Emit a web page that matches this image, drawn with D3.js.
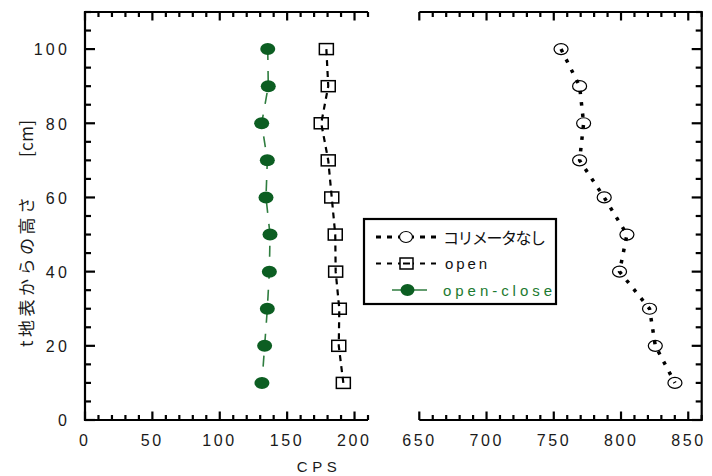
<!DOCTYPE html>
<html><head><meta charset="utf-8">
<script src="https://cdn.jsdelivr.net/npm/d3@7"></script>
<style>
html,body{margin:0;padding:0;background:#fff;}
svg{display:block;}
</style></head>
<body>
<svg id="chart" width="712" height="476"></svg>
<script>
// ---- data ----
const heights = [100, 90, 80, 70, 60, 50, 40, 30, 20, 10];
const openClose = [135.6, 136.0, 131.1, 135.3, 134.3, 137.3, 136.8, 135.3, 133.3, 131.3];
const openVals = [179.1, 180.5, 175.3, 180.5, 183.1, 185.7, 186.0, 188.7, 188.3, 191.7];
const noCollimator = [755.4, 769.2, 772.2, 769.2, 787.5, 804.4, 798.9, 821.2, 825.5, 840.1];
const leftTicks = [0, 50, 100, 150, 200];
const rightTicks = [650, 700, 750, 800, 850];
const yTicks = [0, 20, 40, 60, 80, 100];
const seriesNames = ["コリメータなし", "open", "open-close"];
const xTitle = "CPS";
const yTitleMain = "t地表からの高さ";
const yTitleUnit = "[cm]";

const svg = d3.select("#chart");
const green = "#0c5e22", greenLine = "#2f7d3f", greenText = "#1c7a30";
const latin = "'Liberation Sans', Arial, sans-serif";
const cjk = "'Noto Sans CJK JP', sans-serif";

const y = d3.scaleLinear([0, 110], [420, 12]);
const xL = d3.scaleLinear([0, 210], [85, 368]);
const xR = d3.scaleLinear([650, 860], [419.3, 701.7]);

const frame = svg.append("g").attr("stroke", "#000").attr("stroke-width", 2.2).attr("fill", "none");
frame.append("path").attr("d", `M${xL(210)},${y(110)}H${xL(0)}V${y(0)}H${xL(210)}`);
frame.append("path").attr("d", `M${xR(650)},${y(110)}H${xR(860)}V${y(0)}H${xR(650)}`);

function xTicks(scale, lo, hi) {
  d3.range(lo, hi + 1, 10).forEach(v => {
    const len = v % 50 === 0 ? 8.5 : 5;
    frame.append("line").attr("x1", scale(v)).attr("x2", scale(v)).attr("y1", y(0)).attr("y2", y(0) - len);
    frame.append("line").attr("x1", scale(v)).attr("x2", scale(v)).attr("y1", y(110)).attr("y2", y(110) + len);
  });
}
xTicks(xL, 0, 210);
xTicks(xR, 650, 860);
d3.range(0, 111, 5).forEach(v => {
  const len = v % 20 === 0 ? 10 : 6;
  frame.append("line").attr("x1", xL(0)).attr("x2", xL(0) + len).attr("y1", y(v)).attr("y2", y(v));
  frame.append("line").attr("x1", xR(860)).attr("x2", xR(860) - len).attr("y1", y(v)).attr("y2", y(v));
});

// tick labels via d3 axes
function styleAxis(g, sp) {
  g.select(".domain").remove();
  g.attr("font-family", latin).attr("font-size", 16);
  g.selectAll("text").attr("fill", "#1a1a1a").style("letter-spacing", sp + "px");
}
const gxL = svg.append("g").attr("transform", "translate(0,446)")
  .call(d3.axisBottom(xL).tickValues(leftTicks).tickSize(0).tickFormat(d3.format("d")));
styleAxis(gxL, 2.6);
gxL.selectAll("text").attr("y", 0).attr("dy", 0).attr("dx", -0.7);
const gxR = svg.append("g").attr("transform", "translate(0,446)")
  .call(d3.axisBottom(xR).tickValues(rightTicks).tickSize(0).tickFormat(d3.format("d")));
styleAxis(gxR, 2.6);
gxR.selectAll("text").attr("y", 0).attr("dy", 0).attr("dx", -0.3);
const gy = svg.append("g").attr("transform", "translate(70,0)")
  .call(d3.axisLeft(y).tickValues(yTicks).tickSize(0).tickFormat(d3.format("d")));
styleAxis(gy, 3.2);
gy.selectAll("text").attr("x", 0).attr("dy", "0.36em");

// axis titles
svg.append("text").attr("x", 319).attr("y", 472).attr("text-anchor", "middle")
  .attr("font-family", latin).attr("font-size", 15)
  .style("letter-spacing", "4.5px").attr("fill", "#1a1a1a").text(xTitle);
const yt = svg.append("g").attr("transform", "translate(25,0) rotate(-90)");
yt.append("text").attr("x", -347).attr("y", 0).attr("dominant-baseline", "central")
  .attr("font-family", cjk).attr("font-size", 17)
  .attr("textLength", 150).attr("lengthAdjust", "spacing").attr("fill", "#1a1a1a").text(yTitleMain);
yt.append("text").attr("x", -157).attr("y", 0).attr("dominant-baseline", "central")
  .attr("font-family", cjk).attr("font-size", 17)
  .attr("textLength", 37).attr("lengthAdjust", "spacing").attr("fill", "#1a1a1a").text(yTitleUnit);

// ---- series ----
const lineL = vals => d3.line().x(d => xL(d)).y((d, i) => y(heights[i]))(vals);
const lineR = vals => d3.line().x(d => xR(d)).y((d, i) => y(heights[i]))(vals);

svg.append("path").attr("d", lineL(openClose)).attr("fill", "none")
  .attr("stroke", greenLine).attr("stroke-width", 1.6).attr("stroke-dasharray", "11,11");
svg.append("g").selectAll("ellipse").data(openClose).join("ellipse")
  .attr("cx", d => xL(d)).attr("cy", (d, i) => y(heights[i]))
  .attr("rx", 7.5).attr("ry", 6).attr("fill", green);

svg.append("path").attr("d", lineL(openVals)).attr("fill", "none")
  .attr("stroke", "#000").attr("stroke-width", 2.2).attr("stroke-dasharray", "6,5");
svg.append("g").selectAll("rect").data(openVals).join("rect")
  .attr("x", d => xL(d) - 7).attr("y", (d, i) => y(heights[i]) - 5.5)
  .attr("width", 14).attr("height", 11)
  .attr("fill", "none").attr("stroke", "#000").attr("stroke-width", 1.5);

svg.append("path").attr("d", lineR(noCollimator)).attr("fill", "none")
  .attr("stroke", "#000").attr("stroke-width", 3.5).attr("stroke-dasharray", "3.5,8");
svg.append("g").selectAll("ellipse").data(noCollimator).join("ellipse")
  .attr("cx", d => xR(d)).attr("cy", (d, i) => y(heights[i]))
  .attr("rx", 7).attr("ry", 5.5)
  .attr("fill", "none").attr("stroke", "#000").attr("stroke-width", 1.2);

// ---- legend ----
const lg = svg.append("g");
lg.append("rect").attr("x", 364).attr("y", 219).attr("width", 192).attr("height", 85)
  .attr("fill", "#fff").attr("stroke", "#000").attr("stroke-width", 2.2);
const rows = [237, 263.5, 290];
lg.append("line").attr("x1", 376).attr("x2", 440).attr("y1", rows[0]).attr("y2", rows[0])
  .attr("stroke", "#000").attr("stroke-width", 3).attr("stroke-dasharray", "5,6");
lg.append("ellipse").attr("cx", 406).attr("cy", rows[0]).attr("rx", 6.5).attr("ry", 5.5)
  .attr("fill", "#fff").attr("stroke", "#000").attr("stroke-width", 1.2);
lg.append("text").attr("x", 443).attr("y", rows[0]).attr("dominant-baseline", "central")
  .attr("font-family", cjk).attr("font-size", 16)
  .attr("textLength", 103).attr("lengthAdjust", "spacing").attr("fill", "#111").text(seriesNames[0]);
lg.append("line").attr("x1", 376).attr("x2", 440).attr("y1", rows[1]).attr("y2", rows[1])
  .attr("stroke", "#000").attr("stroke-width", 2).attr("stroke-dasharray", "5,6");
lg.append("rect").attr("x", 400).attr("y", rows[1] - 5.5).attr("width", 13).attr("height", 11)
  .attr("fill", "#fff").attr("stroke", "#000").attr("stroke-width", 1.5);
lg.append("line").attr("x1", 403).attr("x2", 410).attr("y1", rows[1]).attr("y2", rows[1])
  .attr("stroke", "#000").attr("stroke-width", 2);
lg.append("text").attr("x", 445).attr("y", rows[1]).attr("dominant-baseline", "central")
  .attr("font-family", latin).attr("font-size", 15)
  .attr("textLength", 42).attr("lengthAdjust", "spacing").attr("fill", "#111").text(seriesNames[1]);
lg.append("line").attr("x1", 392).attr("x2", 427).attr("y1", rows[2]).attr("y2", rows[2])
  .attr("stroke", greenLine).attr("stroke-width", 1.6);
lg.append("ellipse").attr("cx", 407.5).attr("cy", rows[2]).attr("rx", 7).attr("ry", 6).attr("fill", green);
lg.append("text").attr("x", 443).attr("y", rows[2]).attr("dominant-baseline", "central")
  .attr("font-family", latin).attr("font-size", 15)
  .attr("textLength", 109).attr("lengthAdjust", "spacing").attr("fill", greenText).text(seriesNames[2]);
</script>
</body></html>
